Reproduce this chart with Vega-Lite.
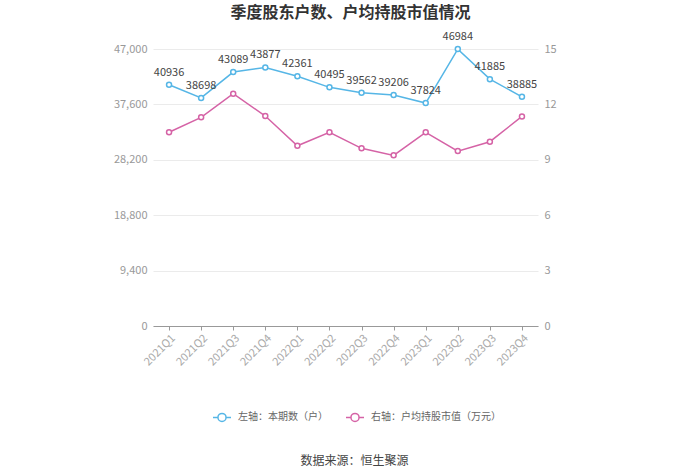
{
  "$schema": "https://vega.github.io/schema/vega-lite/v6.json",
  "width": 385,
  "height": 277,
  "autosize": "none",
  "padding": {"left": 153, "top": 49, "right": 162, "bottom": 148},
  "background": "white",
  "config": {"font": "Noto Sans CJK SC", "view": {"stroke": null}},
  "title": {"text": "季度股东户数、户均持股市值情况", "fontSize": 16, "fontWeight": "bold", "color": "#333333", "offset": 10, "dx": 5},
  "data": {"values": [
    {"q": "2021Q1", "households": 40936, "value": 10.49},
    {"q": "2021Q2", "households": 38698, "value": 11.30},
    {"q": "2021Q3", "households": 43089, "value": 12.58},
    {"q": "2021Q4", "households": 43877, "value": 11.37},
    {"q": "2022Q1", "households": 42361, "value": 9.76},
    {"q": "2022Q2", "households": 40495, "value": 10.49},
    {"q": "2022Q3", "households": 39562, "value": 9.62},
    {"q": "2022Q4", "households": 39206, "value": 9.24},
    {"q": "2023Q1", "households": 37824, "value": 10.49},
    {"q": "2023Q2", "households": 46984, "value": 9.47},
    {"q": "2023Q3", "households": 41885, "value": 9.98},
    {"q": "2023Q4", "households": 38885, "value": 11.35}
  ]},
  "encoding": {
    "x": {"field": "q", "type": "ordinal", "sort": null,
      "axis": {"labelAngle": -45, "labelColor": "#aaaaaa", "labelFontSize": 11, "domainColor": "#999999", "tickColor": "#999999", "tickSize": 4, "grid": false,
        "title": "数据来源：恒生聚源", "titleFontSize": 12, "titleFontWeight": "normal", "titleColor": "#444444", "titleX": 201, "titleY": 134, "titleBaseline": "middle", "titleAlign": "center"}}
  },
  "layer": [
    {
      "encoding": {
        "y": {"field": "households", "type": "quantitative", "scale": {"domain": [0, 47000], "nice": false},
          "axis": {"orient": "left", "values": [0, 9400, 18800, 28200, 37600, 47000], "labelExpr": "format(datum.value, ',')", "title": null, "domain": false, "ticks": false, "labelColor": "#999999", "labelFontSize": 11, "labelPadding": 6, "gridColor": "#ebebeb"}}
      },
      "layer": [
        {"mark": {"type": "line", "strokeWidth": 1.5},
          "encoding": {"color": {"datum": "左轴：本期数（户）", "type": "nominal",
            "scale": {"domain": ["左轴：本期数（户）", "右轴：户均持股市值（万元）"], "range": ["#56b6e6", "#d563a6"]},
            "legend": {"title": null, "orient": "none", "direction": "horizontal", "legendX": 59, "legendY": 358, "padding": 0,
              "symbolType": "M-1,0L-0.45,0M0.45,0L1,0M0.45,0A0.45,0.45,0,1,1,-0.45,0A0.45,0.45,0,1,1,0.45,0",
              "symbolSize": 324, "symbolStrokeWidth": 1.5, "symbolFillColor": "white", "labelFontSize": 10, "labelColor": "#666666", "labelOffset": 6, "columnPadding": 15}}}},
        {"mark": {"type": "point", "filled": false, "fill": "white", "size": 25, "strokeWidth": 1.5, "opacity": 1},
          "encoding": {"color": {"datum": "左轴：本期数（户）", "type": "nominal"}}},
        {"mark": {"type": "text", "dy": -12, "fontSize": 11, "color": "#444444"},
          "encoding": {"text": {"field": "households", "type": "quantitative", "format": "d"}}}
      ]
    },
    {
      "encoding": {
        "y": {"field": "value", "type": "quantitative", "scale": {"domain": [0, 15], "nice": false},
          "axis": {"orient": "right", "values": [0, 3, 6, 9, 12, 15], "title": null, "domain": false, "ticks": false, "grid": false, "labelColor": "#999999", "labelFontSize": 11, "labelPadding": 6}}
      },
      "layer": [
        {"mark": {"type": "line", "strokeWidth": 1.5},
          "encoding": {"color": {"datum": "右轴：户均持股市值（万元）", "type": "nominal"}}},
        {"mark": {"type": "point", "filled": false, "fill": "white", "size": 25, "strokeWidth": 1.5, "opacity": 1},
          "encoding": {"color": {"datum": "右轴：户均持股市值（万元）", "type": "nominal"}}}
      ]
    }
  ],
  "resolve": {"scale": {"y": "independent"}}
}
